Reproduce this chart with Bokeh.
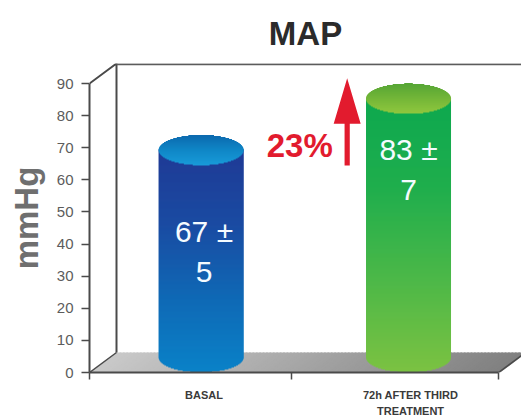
import math
from bokeh.plotting import figure
from bokeh.models import FixedTicker, Range1d, Title
from bokeh.core.properties import value
from bokeh.embed import file_html
from bokeh.resources import INLINE

categories = ["BASAL", "72h AFTER THIRD\nTREATMENT"]
means = [67, 83]
errors = [5, 7]
change_label = "23%"
y_ticks = [0, 10, 20, 30, 40, 50, 60, 70, 80, 90]

SANS = "Liberation Sans"
INK = "#4a4a4a"
GREY = "#5c5c5c"
RED = "#e21b2e"
WHITE = "#f4fbff"

# figure geometry in px
PX_X = 204.5
PX_Y = 3.211
FRAME_L, FRAME_T, FRAME_R, FRAME_B = 89, 63, 521, 372
W, H = 521, 420

DEPTH_X = 27 / PX_X
DEPTH_Y = 20 / PX_Y
BAR_CENTERS = [0.546, 1.56]
TEXT_CENTERS = [0.56, 1.56]
TICK_CENTERS = [0.56, 1.57]
BOUNDARIES = [0, 0.988, 2]
BAR_HALF = 42.5 / PX_X
ELL_B = 15 / PX_Y
TOP_OFFSET = 2.2

p = figure(width=W, height=H, output_backend="svg", toolbar_location=None,
           x_range=Range1d(0, (FRAME_R - FRAME_L) / PX_X),
           y_range=Range1d(0, (FRAME_B - FRAME_T) / PX_Y),
           min_border_left=FRAME_L, min_border_right=W - FRAME_R,
           min_border_top=FRAME_T, min_border_bottom=H - FRAME_B,
           background_fill_color="white", border_fill_color="white",
           outline_line_color=None)
p.grid.visible = False

p.title = Title(text="MAP", align="center", text_font=SANS, text_line_height=0.9,
                text_font_size="33px", text_font_style="bold", text_color="#2b2b2b",
                standoff=24)


def mix(a, b, f):
    ca = [int(a[i:i + 2], 16) for i in (1, 3, 5)]
    cb = [int(b[i:i + 2], 16) for i in (1, 3, 5)]
    return "#%02x%02x%02x" % tuple(round(x + (y - x) * f) for x, y in zip(ca, cb))


def ramp(stops, f):
    f = max(0, min(1, f))
    n = len(stops) - 1
    i = min(int(f * n), n - 1)
    return mix(stops[i], stops[i + 1], f * n - i)


# floor, shaded left to right
FLOOR_W = 2.0
N = 120
fx, fy, fc = [], [], []
for i in range(N):
    a = FLOOR_W * i / N
    b = FLOOR_W * (i + 1.5) / N
    fx.append([a, b, b + DEPTH_X, a + DEPTH_X])
    fy.append([0, 0, DEPTH_Y, DEPTH_Y])
    fc.append(mix("#c9c9c9", "#808080", i / N))
p.patches(fx, fy, fill_color=fc, line_color=None)

# 3-D frame
top = 90 + DEPTH_Y
p.line([0, DEPTH_X, DEPTH_X], [90, top, DEPTH_Y], line_color=INK, line_width=2)
p.line([DEPTH_X, 3], [top - 0.2, top - 0.2], line_color=GREY, line_width=2)
p.line([0, DEPTH_X], [0, DEPTH_Y], line_color=INK, line_width=1.5)
p.line([FLOOR_W, FLOOR_W + DEPTH_X], [0, DEPTH_Y], line_color=INK, line_width=1.5)


def cylinder(cx, val, body_stops, cap_stops):
    c_top = val + TOP_OFFSET
    c_base = ELL_B
    step = 1 / PX_Y
    lefts, rights, tops, bottoms, colors = [], [], [], [], []
    row = 0
    while row * step < c_top:
        y = row * step
        mid = y + step / 2
        hw = BAR_HALF
        if mid < c_base:
            hw = BAR_HALF * math.sqrt(max(0, 1 - ((c_base - mid) / ELL_B) ** 2))
        lefts.append(cx - hw)
        rights.append(cx + hw)
        bottoms.append(y)
        tops.append(y + step * 1.5)
        colors.append(ramp(body_stops, 1 - y / c_top))
        row += 1
    row = math.floor((c_top - ELL_B) / step)
    while row * step < c_top + ELL_B:
        y = row * step
        mid = y + step / 2
        hw = BAR_HALF * math.sqrt(max(0, 1 - ((mid - c_top) / ELL_B) ** 2))
        lefts.append(cx - hw)
        rights.append(cx + hw)
        bottoms.append(y)
        tops.append(y + step * 1.5)
        colors.append(ramp(cap_stops, (c_top + ELL_B - y) / (2 * ELL_B)))
        row += 1
    p.quad(left=lefts, right=rights, top=tops, bottom=bottoms,
           fill_color=colors, line_color=None)


cylinder(BAR_CENTERS[0], means[0], ["#1f3a95", "#1a4ba2", "#0f69b5", "#0a82c8"],
         ["#0c68ad", "#0f86c6", "#189ad8"])
cylinder(BAR_CENTERS[1], means[1], ["#0da84f", "#20ae4d", "#4db848", "#7cc242"],
         ["#55a535", "#74b638", "#8fc73e"])

# value labels
LABEL_Y = [(43.9, 31.2), (69.3, 56.8)]
for cx, m, e, (y1, y2) in zip(TEXT_CENTERS, means, errors, LABEL_Y):
    p.text([cx], [y1], text=[f"{m} ±"], text_align="center", text_baseline="middle",
           text_color=WHITE, text_font=value(SANS), text_font_size="30px")
    p.text([cx], [y2], text=[f"{e}"], text_align="center", text_baseline="middle",
           text_color=WHITE, text_font=value(SANS), text_font_size="30px")

# change arrow and label
AX = 1.26
STEM = 2.6 / PX_X
HEAD = 13.5 / PX_X
p.patch([AX - STEM, AX + STEM, AX + STEM, AX + HEAD, AX, AX - HEAD, AX - STEM],
        [64.5, 64.5, 77.5, 77.5, 91.6, 77.5, 77.5],
        fill_color=RED, line_color=None)
p.text([1.028], [70.6], text=[change_label], text_align="center", text_baseline="middle",
       text_color=RED, text_font=value(SANS), text_font_style="bold",
       text_font_size="33px")

# axes
ya = p.yaxis[0]
ya.ticker = FixedTicker(ticks=y_ticks)
ya.bounds = (0, 90)
ya.axis_label = "mmHg"
ya.axis_label_text_font = SANS
ya.axis_label_text_font_size = "33px"
ya.axis_label_text_font_style = "bold"
ya.axis_label_text_color = "#6f6f6f"
ya.axis_label_standoff = 9
ya.major_label_text_font = SANS
ya.major_label_text_font_size = "15px"
ya.major_label_text_color = GREY
ya.major_label_standoff = 8
ya.major_tick_out = 8
ya.major_tick_in = 0
ya.minor_tick_line_color = None
ya.major_tick_line_color = INK
ya.major_tick_line_width = 1.5
ya.axis_line_color = INK
ya.axis_line_width = 2

xa = p.xaxis[0]
xa.ticker = FixedTicker(ticks=TICK_CENTERS, minor_ticks=BOUNDARIES)
xa.bounds = (0, 2)
xa.major_label_overrides = dict(zip(TICK_CENTERS, categories))
xa.major_label_text_font = SANS
xa.major_label_text_font_style = "bold"
xa.major_label_text_font_size = "11px"
xa.major_label_text_color = "#3a3a3a"
xa.major_label_text_line_height = 1.4
xa.major_label_standoff = 9
xa.major_tick_in = 0
xa.major_tick_out = 0
xa.minor_tick_in = 0
xa.minor_tick_out = 7
xa.minor_tick_line_color = INK
xa.minor_tick_line_width = 1.5
xa.axis_line_color = INK
xa.axis_line_width = 2

open("out.html", "w").write(file_html(p, INLINE))
